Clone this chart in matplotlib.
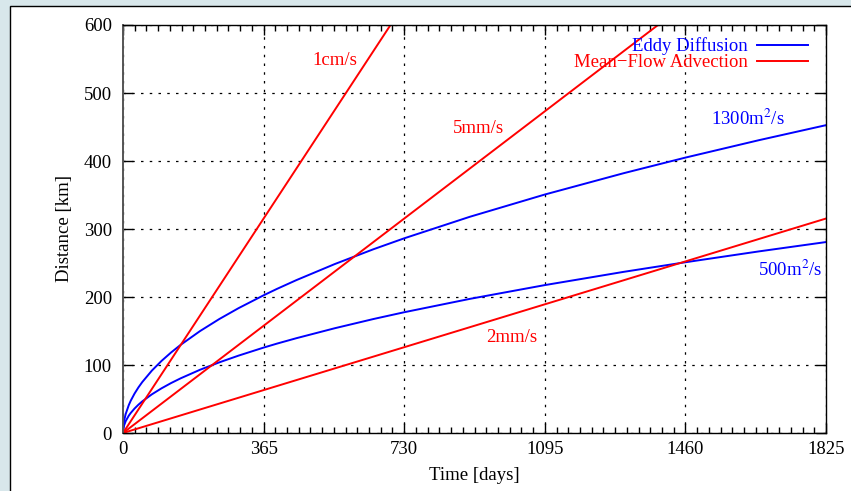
import matplotlib
matplotlib.use("Agg")

import matplotlib.pyplot as plt
import matplotlib.ticker as ticker
from matplotlib.patches import Rectangle

# time axis (days) and spreading distance (km)
days = [0, 1, 3, 7, 15, 20, 30, 40, 50, 75, 100, 125, 150, 200, 250, 300,
        365, 400, 450, 550, 650, 730, 900, 1095, 1300, 1460, 1650, 1825]
eddy_1300 = [0, 10.6, 18.4, 28.0, 41.0, 47.4, 58.0, 67.0, 74.9, 91.8, 106.0,
             118.5, 129.8, 149.9, 167.6, 183.6, 202.5, 212.0, 224.8, 248.5,
             270.2, 286.3, 317.9, 350.7, 382.1, 405.0, 430.5, 452.7]
eddy_500 = [0, 6.6, 11.4, 17.4, 25.5, 29.4, 36.0, 41.6, 46.5, 56.9, 65.7,
            73.5, 80.5, 93.0, 103.9, 113.8, 125.6, 131.5, 139.4, 154.1,
            167.6, 177.6, 197.2, 217.5, 237.0, 251.1, 267.0, 280.8]

# advection lines (start / end points)
adv_days = [0, 1825]
adv_1cm = [0, 1576.8]
adv_5mm = [0, 788.4]
adv_2mm = [0, 315.4]

x_ticks = [0, 365, 730, 1095, 1460, 1825]
y_ticks = [0, 100, 200, 300, 400, 500, 600]

W, H, DPI = 851, 491, 100
fig = plt.figure(figsize=(W / DPI, H / DPI), dpi=DPI)
fig.patch.set_facecolor("#d8e7eb")

# white page panel with black border
fig.patches.append(Rectangle((10 / W, -0.05), 1.2, (H - 6) / H + 0.05,
                             transform=fig.transFigure, facecolor="white",
                             edgecolor="black", linewidth=1.0, zorder=0))

ax = fig.add_axes([123 / W, 58 / H, 703 / W, 408 / H])
ax.set_zorder(2)
plt.rcParams["mathtext.fontset"] = "stix"
serif = "Liberation Serif"
fs = 13.5

blue = "#0000ff"
red = "#ff0000"
lw = 1.4

ax.plot(days, eddy_1300, color=blue, lw=lw, label="Eddy Diffusion")
ax.plot(days, eddy_500, color=blue, lw=lw)
ax.plot(adv_days, adv_1cm, color=red, lw=lw, label="Mean\u2212Flow Advection")
ax.plot(adv_days, adv_5mm, color=red, lw=lw)
ax.plot(adv_days, adv_2mm, color=red, lw=lw)

ax.set_xlim(0, 1825)
ax.set_ylim(0, 600)
ax.set_xticks(x_ticks)
ax.set_yticks(y_ticks)
ax.xaxis.set_minor_locator(ticker.MultipleLocator(365 / 12))

ax.tick_params(which="both", direction="in", top=True, right=True)
ax.tick_params(which="major", length=7, width=1.0, pad=6)
ax.tick_params(which="minor", length=4, width=1.0)
ax.tick_params(axis="y", which="major", pad=8)
for lab in ax.get_xticklabels() + ax.get_yticklabels():
    lab.set_fontfamily(serif)
    lab.set_fontsize(fs)

ax.grid(True, which="major", color="black", lw=0.9, linestyle=(0, (2, 5)))
for sp in ax.spines.values():
    sp.set_linewidth(1.0)
ax.spines["left"].set_color("#555555")
ax.spines["left"].set_linewidth(1.4)

ax.set_xlabel("Time [days]", fontfamily=serif, fontsize=fs, labelpad=6)
ax.set_ylabel("Distance [km]", fontfamily=serif, fontsize=fs, labelpad=8)

# curve annotations
ax.text(550, 548, "1cm/s", color=red, fontfamily=serif, fontsize=fs,
        ha="center", va="center")
ax.text(922, 448, "5mm/s", color=red, fontfamily=serif, fontsize=fs,
        ha="center", va="center")
ax.text(1010, 140, "2mm/s", color=red, fontfamily=serif, fontsize=fs,
        ha="center", va="center")
ax.text(1622, 462, "1300m$^2$/s", color=blue, fontfamily=serif, fontsize=fs,
        ha="center", va="center")
ax.text(1732, 240, "500m$^2$/s", color=blue, fontfamily=serif, fontsize=fs,
        ha="center", va="center")

leg = ax.legend(loc="upper right", bbox_to_anchor=(0.985, 0.988),
                frameon=False, markerfirst=False, handlelength=2.7,
                handletextpad=0.5, labelspacing=-0.05, borderaxespad=0.0,
                labelcolor="linecolor", prop={"family": serif, "size": fs})
for t in leg.get_texts():
    t.set_ha("right")

fig.savefig("out.png", dpi=DPI, facecolor=fig.get_facecolor())
